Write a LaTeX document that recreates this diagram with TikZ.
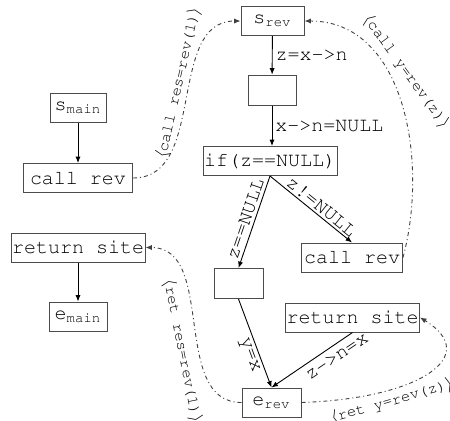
\documentclass[tikz,border=0pt]{standalone}
\usepackage[T1]{fontenc}
\usepackage{courier}
\usetikzlibrary{arrows.meta}
\begin{document}
\begin{tikzpicture}[x=0.5pt,y=-0.5pt,
  box/.style={draw=black!70, line width=0.5pt, font=\ttfamily\fontsize{10}{12}\selectfont, inner xsep=0.5pt, inner ysep=0pt, minimum height=14.5pt},
  flow/.style={-{Latex[length=3.2pt,width=2.6pt]}, line width=0.45pt},
  lab/.style={font=\ttfamily\fontsize{10}{12}\selectfont, inner sep=1.5pt},
  ip/.style={-{Latex[length=3.2pt,width=2.6pt]}, line width=0.45pt, draw=black!75, dash pattern=on 2pt off 1.5pt on 0.5pt off 1.5pt},
  iplab/.style={font=\ttfamily\fontsize{7.8}{9}\selectfont, inner sep=1.5pt}
]
\useasboundingbox (0,0) rectangle (450,420);
\node[box, minimum width=28pt] (smain) at (78,108) {s\textsubscript{main}};
\node[box, minimum width=54.5pt] (crl) at (78,178) {call rev};
\node[box, minimum width=66pt] (rsl) at (78,247.5) {return site};
\node[box, minimum width=29pt] (emain) at (78,316.5) {e\textsubscript{main}};
\node[box, minimum width=31.5pt] (srev) at (272.5,21) {s\textsubscript{rev}};
\node[box, minimum width=24pt, minimum height=15pt] (e1) at (272,90) {};
\node[box, minimum width=67pt] (if) at (270,161) {if(z==NULL)};
\node[box, minimum width=24.5pt, minimum height=15pt] (e2) at (238.5,283.5) {};
\node[box, minimum width=50.5pt] (crr) at (352,257.5) {call rev};
\node[box, minimum width=65.5pt] (rsr) at (352.5,317.5) {return site};
\node[box, minimum width=29.5pt] (erev) at (271.5,402.5) {e\textsubscript{rev}};

\draw[flow] (smain) -- (crl);
\draw[flow] (rsl) -- (emain);
\draw[flow] (srev) -- node[lab, right]{z=x->n} (e1);
\draw[flow] (e1) -- node[lab, right]{x->n=NULL} (e1 |- if.north);
\draw[flow] (if.south) -- node[lab, above, sloped]{z==NULL} (e2.north);
\draw[flow] (if.south) -- node[lab, above, sloped, pos=0.56, inner sep=1pt]{z!=NULL} (crr.north);
\draw[flow] (e2.south) -- node[lab, below, sloped, pos=0.6]{y=x} (erev.north);
\draw[flow] (rsr.south) -- node[lab, below=1.5pt, sloped, pos=0.27]{z->n=x} (erev.north);

\draw[ip] (crl.east) to[out=0,in=180] node[iplab, sloped, above, pos=0.56]{$\langle$call res=rev(1)$\rangle$} (srev.west);
\draw[ip] (crr.east) to[out=75,in=0] node[iplab, rotate=-54, anchor=south, outer sep=3pt, pos=0.58]{$\langle$call y=rev(z)$\rangle$} (srev.east);
\draw[ip] (erev.west) to[out=180,in=0] node[iplab, sloped, below=2pt, pos=0.4]{$\langle$ret res=rev(1)$\rangle$} (rsl.east);
\draw[ip] (erev.east) .. controls +(119,-4) and +(62,38) .. node[iplab, sloped, below, pos=0.29]{$\langle$ret y=rev(z)$\rangle$} (rsr.east);
\end{tikzpicture}
\end{document}
